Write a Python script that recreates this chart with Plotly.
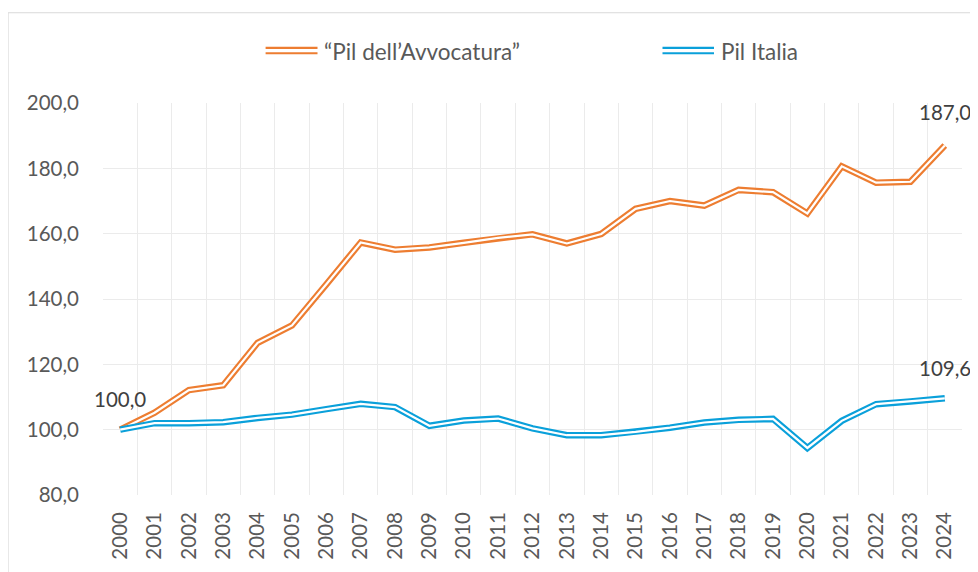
import plotly.graph_objects as go

years = [str(y) for y in range(2000, 2025)]
pil_avvocatura = [100.0, 105.2, 112.1, 113.6, 126.6, 131.9, 144.5, 157.3, 155.1, 155.8,
                  157.2, 158.7, 159.8, 157.0, 159.9, 167.6, 170.0, 168.6, 173.4, 172.7,
                  166.2, 180.6, 175.6, 175.9, 187.0]
pil_italia = [100.0, 102.0, 102.0, 102.3, 103.6, 104.6, 106.3, 107.9, 106.9, 101.2,
              102.8, 103.4, 100.4, 98.3, 98.3, 99.3, 100.6, 102.2, 103.0, 103.3,
              94.4, 102.7, 107.8, 108.6, 109.6]
series_names = ["\u201cPil dell\u2019Avvocatura\u201d", "Pil Italia"]
y_ticks = [80, 100, 120, 140, 160, 180, 200]

ORANGE = "#ED7D31"
BLUE = "#0AA0DA"
FONT = "Lato"
OFF = 8  # browser body margin
W, H = 978 - OFF, 572 - OFF
L, R, T, B = 103 - OFF, 16, 103 - OFF, 75
PW, PH = W - L - R, H - T - B


def px(x):
    return (x - OFF - L) / PW


def py(y):
    return (H - B - (y - OFF)) / PH


def fmt(v):
    return f"{v:.1f}".replace(".", ",")


fig = go.Figure()
for vals, col in [(pil_avvocatura, ORANGE), (pil_italia, BLUE)]:
    fig.add_trace(go.Scatter(x=years, y=vals, mode="lines",
                             line=dict(color=col, width=6.5), showlegend=False,
                             hoverinfo="skip"))
    fig.add_trace(go.Scatter(x=years, y=vals, mode="lines",
                             line=dict(color="white", width=2.2), showlegend=False,
                             hoverinfo="skip"))

last = len(years) - 1
annotations = [
    dict(x=0, y=pil_avvocatura[0], text=fmt(pil_avvocatura[0]), yshift=31),
    dict(x=last, y=pil_avvocatura[last], text=fmt(pil_avvocatura[last]), yshift=33),
    dict(x=last, y=pil_italia[last], text=fmt(pil_italia[last]), yshift=30),
]
for a in annotations:
    a.update(xref="x", yref="y", showarrow=False, yanchor="middle", xanchor="center",
             font=dict(family=FONT, size=20.5, color="#404040"))

# legend (manual, to show the double line style)
shapes = []
legend_items = [(series_names[0], ORANGE, 265.6, 317.5, 322),
                (series_names[1], BLUE, 662.5, 714, 719)]
for name, col, x0, x1, xt in legend_items:
    for yy in (47.6, 53.0):
        shapes.append(dict(type="line", xref="paper", yref="paper",
                           x0=px(x0), x1=px(x1), y0=py(yy), y1=py(yy),
                           line=dict(color=col, width=2.2)))
    annotations.append(dict(xref="paper", yref="paper", x=px(xt), y=py(51.5),
                            text=name, showarrow=False, xanchor="left", yanchor="middle",
                            font=dict(family=FONT, size=22.5, color="#595959")))

# chart border
shapes.append(dict(type="rect", xref="paper", yref="paper",
                   x0=px(8), x1=px(1000), y0=py(12.3), y1=py(600),
                   line=dict(color="#D9D9D9", width=1.2), fillcolor="rgba(0,0,0,0)",
                   layer="below"))

fig.update_layout(
    width=W, height=H,
    margin=dict(l=L, r=R, t=T, b=B),
    paper_bgcolor="white", plot_bgcolor="white",
    separators=",.",
    showlegend=False,
    annotations=annotations,
    shapes=shapes,
    font=dict(family=FONT, color="#595959"),
    xaxis=dict(type="category", range=[-0.5, len(years) - 0.5], tickson="boundaries",
               showgrid=True, gridcolor="#EBEBEB", gridwidth=1.2,
               showline=False, zeroline=False, ticks="",
               tickangle=-90, tickfont=dict(family=FONT, size=20.5, color="#595959"),
               ticklabelstandoff=12),
    yaxis=dict(range=[80, 200], tickvals=y_ticks, tickformat=".1f",
               showgrid=True, gridcolor="#EBEBEB", gridwidth=1.2,
               showline=False, zeroline=False, ticks="",
               tickfont=dict(family=FONT, size=20.5, color="#595959"),
               ticklabelstandoff=23),
)

fig.write_html("out.html")
